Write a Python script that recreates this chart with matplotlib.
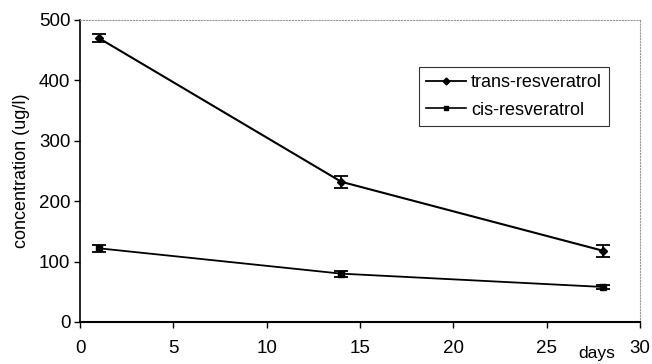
import matplotlib
matplotlib.use("Agg")
import matplotlib.pyplot as plt
from matplotlib.lines import Line2D

plt.rcParams['font.family'] = ['Liberation Sans', 'DejaVu Sans']

# days of sampling
days = [1, 14, 28]

# concentrations (ug/l) with error bars
trans = [470, 232, 118]
trans_err = [6, 10, 10]
cis = [122, 80, 58]
cis_err = [6, 5, 4]

fig = plt.figure(figsize=(6.52, 3.64), dpi=100)
ax = fig.add_axes([0.1227, 0.1154, 0.859, 0.83])

ax.errorbar(days, trans, yerr=trans_err, color='black', marker='D', markersize=4.5,
            linewidth=1.5, capsize=5, elinewidth=1.3, capthick=1.3)
ax.errorbar(days, cis, yerr=cis_err, color='black', marker='s', markersize=4.5,
            linewidth=1.3, capsize=5, elinewidth=1.3, capthick=1.3)

ax.set_xlim(0, 30)
ax.set_ylim(0, 500)
ax.set_xticks(range(0, 31, 5))
ax.set_yticks(range(0, 501, 100))
ax.tick_params(labelsize=13.5, direction='out', length=4, width=1)
ax.tick_params(axis='x', pad=9)
ax.tick_params(axis='y', pad=3)

for side in ['top', 'right']:
    ax.spines[side].set_color('#999999')
    ax.spines[side].set_linestyle(':')
ax.spines['left'].set_linewidth(1.2)
ax.spines['bottom'].set_linewidth(1.5)

ax.set_ylabel('concentration (ug/l)', fontsize=13, labelpad=6)
# "days" sits just below the tick labels near x=27.7
ax.annotate('days', xy=(27.7, 0), xycoords=('data', 'figure fraction'),
            xytext=(0, 2), textcoords='offset points', fontsize=12.5,
            ha='center', va='bottom')

handles = [Line2D([], [], color='black', marker='D', markersize=3.5, linewidth=1.3),
           Line2D([], [], color='black', marker='s', markersize=3.5, linewidth=1.2)]
leg = ax.legend(handles, ['trans-resveratrol', 'cis-resveratrol'],
                loc='upper left', bbox_to_anchor=(0.605, 0.845), fontsize=13,
                frameon=True, fancybox=False, edgecolor='black', handlelength=2.2,
                handletextpad=0.3, borderpad=0.4, labelspacing=0.6, borderaxespad=0)
leg.get_frame().set_linewidth(0.8)

fig.savefig('out.png', dpi=100)
